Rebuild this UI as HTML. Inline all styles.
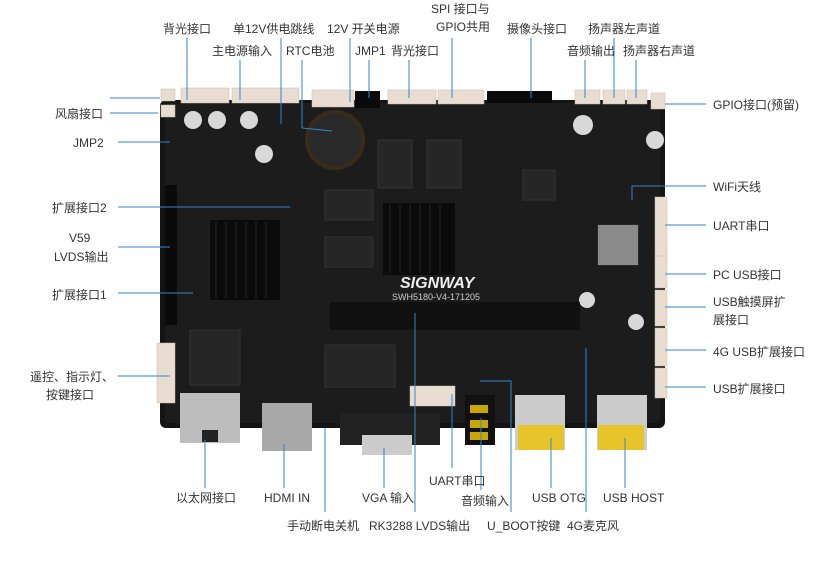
<!DOCTYPE html>
<html><head><meta charset="utf-8"><style>
body{margin:0;background:#fff;}
svg{display:block;}
text{font-family:"Liberation Sans","Noto Sans CJK SC",sans-serif;font-size:12px;fill:#333;}
.l{stroke:#2e86d6;stroke-width:1;fill:none;}
</style></head><body>
<svg width="834" height="576" viewBox="0 0 834 576" xmlns="http://www.w3.org/2000/svg">
<!-- board -->
<rect x="160" y="100" width="505" height="328" rx="6" fill="#141414"/>
<rect x="165" y="103" width="495" height="320" rx="4" fill="#1c1c1c"/>
<!-- top connectors -->
<g fill="#e8ddd0" stroke="#c8bba8" stroke-width="0.5">
<rect x="161" y="89" width="14" height="12"/><rect x="161" y="105" width="14" height="12"/>
<rect x="181" y="88" width="48" height="15"/><rect x="232" y="88" width="67" height="15"/>
<rect x="312" y="90" width="42" height="17"/><rect x="388" y="90" width="48" height="14"/>
<rect x="438" y="90" width="46" height="14"/><rect x="575" y="90" width="25" height="14"/>
<rect x="603" y="90" width="22" height="14"/><rect x="627" y="90" width="20" height="14"/>
<rect x="651" y="93" width="14" height="16"/>
<rect x="157" y="343" width="18" height="60"/>
<rect x="655" y="197" width="12" height="60"/><rect x="655" y="256" width="12" height="32"/>
<rect x="655" y="290" width="12" height="36"/><rect x="655" y="328" width="12" height="38"/>
<rect x="655" y="368" width="12" height="30"/>
<rect x="410" y="386" width="45" height="20"/>
</g>
<rect x="487" y="91" width="65" height="12" fill="#0a0a0a"/>
<rect x="355" y="91" width="25" height="17" fill="#0a0a0a"/>
<!-- heat sinks -->
<rect x="210" y="220" width="70" height="80" fill="#0b0b0b"/>
<rect x="383" y="203" width="72" height="72" fill="#0b0b0b"/>
<g stroke="#2a2a2a" stroke-width="1">
<line x1="216" y1="222" x2="216" y2="298"/><line x1="226" y1="222" x2="226" y2="298"/><line x1="236" y1="222" x2="236" y2="298"/><line x1="246" y1="222" x2="246" y2="298"/><line x1="256" y1="222" x2="256" y2="298"/><line x1="266" y1="222" x2="266" y2="298"/>
<line x1="390" y1="205" x2="390" y2="273"/><line x1="400" y1="205" x2="400" y2="273"/><line x1="410" y1="205" x2="410" y2="273"/><line x1="420" y1="205" x2="420" y2="273"/><line x1="430" y1="205" x2="430" y2="273"/><line x1="440" y1="205" x2="440" y2="273"/>
</g>
<!-- chips -->
<g fill="#262626" stroke="#333">
<rect x="325" y="190" width="48" height="30"/><rect x="325" y="237" width="48" height="30"/>
<rect x="378" y="140" width="34" height="48"/><rect x="427" y="140" width="34" height="48"/>
<rect x="325" y="345" width="70" height="42"/><rect x="190" y="330" width="50" height="55"/>
<rect x="523" y="170" width="32" height="30"/><rect x="598" y="225" width="40" height="40"/>
</g>
<rect x="598" y="225" width="40" height="40" fill="#8a8a8a"/>
<!-- battery -->
<circle cx="335" cy="140" r="30" fill="#3a2c1a"/><circle cx="335" cy="140" r="26" fill="#2a2a2a"/>
<!-- caps -->
<g fill="#d8d8d8"><circle cx="193" cy="120" r="9"/><circle cx="217" cy="120" r="9"/><circle cx="249" cy="120" r="9"/><circle cx="264" cy="154" r="9"/><circle cx="583" cy="125" r="10"/><circle cx="655" cy="140" r="9"/><circle cx="587" cy="300" r="8"/><circle cx="636" cy="322" r="8"/></g>
<!-- header pins -->
<rect x="165" y="185" width="12" height="140" fill="#0a0a0a"/>
<rect x="330" y="302" width="250" height="28" fill="#111"/>
<text x="400" y="288" style="font-size:16px;font-weight:bold;font-style:italic;fill:#eee">SIGNWAY</text>
<text x="392" y="300" style="font-size:9px;fill:#ccc">SWH5180-V4-171205</text>
<!-- bottom connectors -->
<rect x="180" y="393" width="60" height="50" fill="#bdbdbd"/><rect x="202" y="430" width="16" height="12" fill="#222"/>
<rect x="262" y="403" width="50" height="48" fill="#a8a8a8"/>
<rect x="340" y="413" width="100" height="32" fill="#222"/><rect x="362" y="435" width="50" height="20" fill="#ccc"/>
<rect x="465" y="395" width="30" height="50" fill="#111"/><rect x="470" y="405" width="18" height="8" fill="#c9a600"/><rect x="470" y="420" width="18" height="8" fill="#c9a600"/><rect x="470" y="432" width="18" height="8" fill="#c9a600"/>
<rect x="515" y="395" width="50" height="55" fill="#ccc"/><rect x="518" y="425" width="46" height="25" fill="#e7c52a"/>
<rect x="597" y="395" width="50" height="55" fill="#ccc"/><rect x="598" y="425" width="46" height="25" fill="#e7c52a"/>
<!-- leader lines -->
<g class="l">
<line x1="187" y1="38" x2="187" y2="100"/><line x1="240" y1="60" x2="240" y2="100"/>
<line x1="281" y1="38" x2="281" y2="124"/><line x1="302" y1="60" x2="302" y2="128"/><polyline points="302,128 332,131"/>
<line x1="350" y1="38" x2="350" y2="102"/><line x1="369" y1="60" x2="369" y2="98"/>
<line x1="409" y1="60" x2="409" y2="98"/><line x1="452" y1="38" x2="452" y2="98"/>
<line x1="531" y1="38" x2="531" y2="98"/><line x1="585" y1="60" x2="585" y2="98"/>
<line x1="614" y1="38" x2="614" y2="98"/><line x1="636" y1="60" x2="636" y2="98"/>
<line x1="110" y1="98" x2="160" y2="98"/><line x1="110" y1="113" x2="158" y2="113"/>
<line x1="118" y1="142" x2="170" y2="142"/><line x1="118" y1="207" x2="290" y2="207"/>
<line x1="118" y1="247" x2="170" y2="247"/><line x1="118" y1="293" x2="193" y2="293"/>
<line x1="118" y1="376" x2="170" y2="376"/>
<line x1="665" y1="104" x2="706" y2="104"/><polyline points="632,200 632,186 706,186"/>
<line x1="665" y1="225" x2="706" y2="225"/><line x1="665" y1="274" x2="706" y2="274"/>
<line x1="665" y1="307" x2="706" y2="307"/><line x1="665" y1="350" x2="706" y2="350"/>
<line x1="665" y1="387" x2="706" y2="387"/>
<line x1="205" y1="440" x2="205" y2="488"/><line x1="284" y1="444" x2="284" y2="488"/>
<line x1="325" y1="428" x2="325" y2="512"/><line x1="384" y1="448" x2="384" y2="488"/>
<line x1="415" y1="313" x2="415" y2="512"/><line x1="452" y1="394" x2="452" y2="468"/>
<line x1="481" y1="418" x2="481" y2="490"/><polyline points="480,381 511,381 511,512"/>
<line x1="551" y1="438" x2="551" y2="488"/><line x1="586" y1="348" x2="586" y2="512"/>
<line x1="625" y1="438" x2="625" y2="488"/>
</g>
<!-- labels -->
<text x="163" y="33">背光接口</text><text x="233" y="33">单12V供电跳线</text><text x="327" y="33">12V 开关电源</text>
<text x="431" y="13">SPI 接口与</text><text x="436" y="31">GPIO共用</text><text x="507" y="33">摄像头接口</text><text x="588" y="33">扬声器左声道</text>
<text x="212" y="55">主电源输入</text><text x="286" y="55">RTC电池</text><text x="355" y="55">JMP1</text><text x="391" y="55">背光接口</text><text x="567" y="55">音频输出</text><text x="623" y="55">扬声器右声道</text>
<text x="55" y="118">风扇接口</text><text x="73" y="147">JMP2</text><text x="52" y="212">扩展接口2</text>
<text x="69" y="242">V59</text><text x="54" y="261">LVDS输出</text><text x="52" y="299">扩展接口1</text>
<text x="30" y="381">遥控、指示灯、</text><text x="46" y="399">按键接口</text>
<text x="713" y="109">GPIO接口(预留)</text><text x="713" y="191">WiFi天线</text><text x="713" y="230">UART串口</text>
<text x="713" y="279">PC USB接口</text><text x="713" y="306">USB触摸屏扩</text><text x="713" y="324">展接口</text>
<text x="713" y="356">4G USB扩展接口</text><text x="713" y="393">USB扩展接口</text>
<text x="176" y="502">以太网接口</text><text x="264" y="502">HDMI IN</text><text x="362" y="502">VGA 输入</text>
<text x="429" y="485">UART串口</text><text x="461" y="505">音频输入</text><text x="532" y="502">USB OTG</text><text x="603" y="502">USB HOST</text>
<text x="287" y="530">手动断电关机</text><text x="369" y="530">RK3288 LVDS输出</text><text x="487" y="530">U_BOOT按键</text><text x="567" y="530">4G麦克风</text>
</svg>
</body></html>
